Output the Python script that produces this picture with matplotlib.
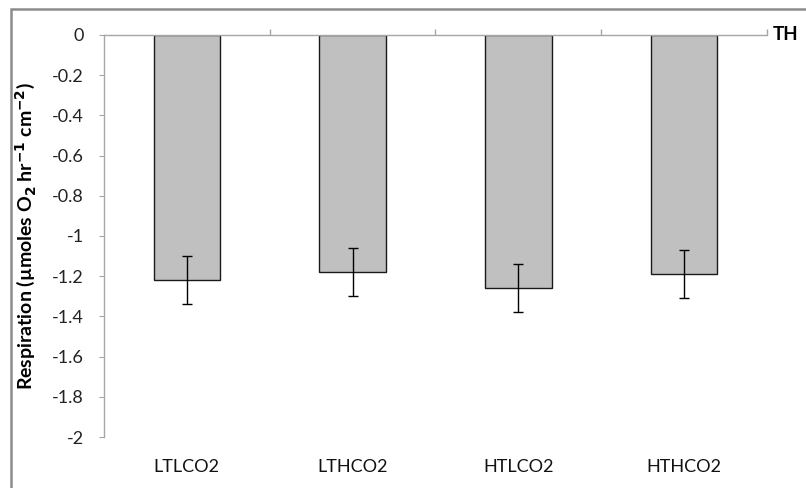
"""
Respiration (TH) - 四个处理组的柱状图, 含误差线
"""

import matplotlib
matplotlib.use('Agg')
import matplotlib.pyplot as plt
from matplotlib.patches import Rectangle

plt.rcParams['font.family'] = ['Lato', 'DejaVu Sans']
plt.rcParams['mathtext.fontset'] = 'custom'
plt.rcParams['mathtext.rm'] = 'DejaVu Sans'
plt.rcParams['mathtext.bf'] = 'DejaVu Sans:bold'

# 数据
treatments = ['LTLCO2', 'LTHCO2', 'HTLCO2', 'HTHCO2']
respiration = [-1.22, -1.18, -1.26, -1.19]
errors = [0.12, 0.12, 0.12, 0.12]
y_ticks = [0, -0.2, -0.4, -0.6, -0.8, -1, -1.2, -1.4, -1.6, -1.8, -2]
panel_label = 'TH'

fig = plt.figure(figsize=(8.06, 4.88), dpi=100)
ax = fig.add_axes([0.129, 0.1045, 0.8226, 0.8238])

# 外框
fig.patches.append(Rectangle((11 / 806, -0.05), 1.0, 1.05 - 9 / 488,
                             transform=fig.transFigure, fill=False,
                             edgecolor='#8c8c8c', linewidth=1.8))

x = list(range(len(treatments)))
ax.bar(x, respiration, width=0.4, color='#c0c0c0', edgecolor='#1a1a1a',
       linewidth=1.0, zorder=2)
ax.errorbar(x, respiration, yerr=errors, fmt='none', ecolor='black',
            elinewidth=1.0, capsize=3.6, capthick=1.0, zorder=3)

ax.set_xlim(-0.5, len(treatments) - 0.5)
ax.set_ylim(-2, 0)
ax.set_yticks(y_ticks)
ax.set_yticklabels([f'{v:g}' for v in y_ticks])

# x轴在 0 处(顶部), 类别标签在底部
ax.set_xticks(x)
ax.set_xticklabels(treatments)
ax.tick_params(axis='x', which='major', length=0, pad=16, labelsize=13,
               labelcolor='#111111')
ax.set_xticks([i + 0.5 for i in x], minor=True)
ax.tick_params(axis='x', which='minor', top=True, bottom=False,
               direction='out', length=4.5, color='#a6a6a6', width=1.0)
ax.tick_params(axis='y', direction='out', length=3.6, pad=11,
               color='#a6a6a6', labelsize=13, labelcolor='#222222')

for side in ['bottom', 'right']:
    ax.spines[side].set_visible(False)
for side in ['top', 'left']:
    ax.spines[side].set_color('#a6a6a6')
    ax.spines[side].set_linewidth(1.0)

ax.set_ylabel(r'Respiration (µmoles O$_\mathbf{2}$ hr$^\mathbf{-1}$ cm$^\mathbf{-2}$)',
              fontsize=14, fontweight='bold')
ax.yaxis.set_label_coords(-0.0995, 0.5)

ax.text(1.008, 1.0, panel_label, transform=ax.transAxes, ha='left',
        va='center', fontsize=13.5, fontweight='bold')

fig.savefig('out.png', dpi=100, facecolor='white')
